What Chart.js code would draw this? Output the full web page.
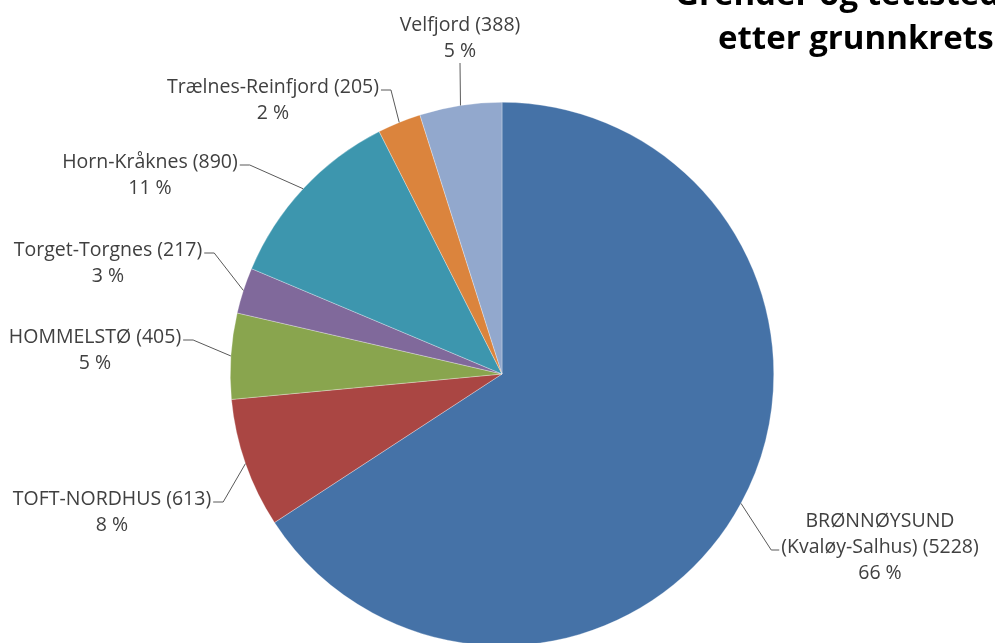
<!DOCTYPE html>
<html>
<head>
<meta charset="utf-8">
<script src="https://cdn.jsdelivr.net/npm/chart.js@4.4.0/dist/chart.umd.min.js"></script>
<style>
  html, body { margin: 0; padding: 0; background: #fff; overflow: hidden; }
  #wrap { width: 995px; height: 660px; position: relative; }
</style>
</head>
<body>
<div id="wrap"><canvas id="pie"></canvas></div>
<script>
// grunnkretser, clockwise from 12 o'clock
const names = [
    ["BRØNNØYSUND", "(Kvaløy-Salhus) (5228)"],
    ["TOFT-NORDHUS (613)"],
    ["HOMMELSTØ (405)"],
    ["Torget-Torgnes (217)"],
    ["Horn-Kråknes (890)"],
    ["Trælnes-Reinfjord (205)"],
    ["Velfjord (388)"]
];
const people = [5228, 613, 405, 217, 890, 205, 388];
const percentText = ["66 %", "8 %", "5 %", "3 %", "11 %", "2 %", "5 %"];
const colors = ["#4572A7", "#AA4643", "#89A54E", "#80699B", "#3D96AE", "#DB843D", "#92A8CD"];
const titleLines = ["Grender og tettsteder", "etter grunnkretser"];

// where the data labels sit (centre of text block) and where the leader leaves them
const labelSpots = [
    { x: 880, y: 521, side: "left2" },
    { x: 112, y: 499, side: "right" },
    { x: 95, y: 337, side: "right" },
    { x: 108, y: 250, side: "right" },
    { x: 150, y: 162, side: "right" },
    { x: 273, y: 87, side: "right" },
    { x: 460, y: 25, side: "below" }
];

const labelFont = "19.5px 'Open Sans'";
const lineH = 26;

const pieLabels = {
    id: "pieLabels",
    afterDraw(chart) {
        const ctx = chart.ctx;
        const arcs = chart.getDatasetMeta(0).data;
        ctx.save();
        ctx.font = labelFont;
        ctx.fillStyle = "#404040";
        ctx.textAlign = "center";
        ctx.textBaseline = "middle";
        arcs.forEach((arc, i) => {
            const p = arc.getProps(["x", "y", "startAngle", "endAngle", "outerRadius"], true);
            const mid = (p.startAngle + p.endAngle) / 2;
            const ex = p.x + Math.cos(mid) * p.outerRadius;
            const ey = p.y + Math.sin(mid) * p.outerRadius;
            const spot = labelSpots[i];
            const lines = names[i].concat([percentText[i]]);
            lines.forEach((t, k) => ctx.fillText(t, spot.x, spot.y + k * lineH));

            ctx.strokeStyle = "#595959";
            ctx.lineWidth = 1;
            ctx.beginPath();
            if (spot.side === "right") {
                const w = ctx.measureText(lines[0]).width;
                const sx = spot.x + w / 2 + 2;
                const sy = spot.y + 3;
                ctx.moveTo(sx, sy);
                ctx.lineTo(sx + 10, sy);
                ctx.lineTo(ex, ey);
            } else if (spot.side === "left2") {
                const w = ctx.measureText(lines[1]).width;
                const sx = spot.x - w / 2 - 2;
                const sy = spot.y + lineH + 3;
                ctx.moveTo(sx, sy);
                ctx.lineTo(sx - 8, sy);
                ctx.lineTo(ex, ey);
            } else {
                ctx.moveTo(spot.x, spot.y + lineH + 12);
                ctx.lineTo(ex, ey);
            }
            ctx.stroke();
        });

        ctx.font = "bold 33px 'Open Sans'";
        ctx.fillStyle = "#000";
        ctx.textAlign = "left";
        ctx.textBaseline = "alphabetic";
        ctx.fillText(titleLines[0], 675, 5);
        ctx.fillText(titleLines[1], 718, 49);
        ctx.restore();
    }
};

new Chart(document.getElementById("pie"), {
    type: "pie",
    data: {
        labels: names.map(n => n.join(" ")),
        datasets: [{
            data: people,
            backgroundColor: colors,
            borderColor: "rgba(255,255,255,0.6)",
            borderWidth: 0.5
        }]
    },
    options: {
        responsive: true,
        maintainAspectRatio: false,
        animation: false,
        layout: { padding: { top: 102, bottom: 14, left: 230, right: 221 } },
        plugins: {
            legend: { display: false },
            tooltip: { enabled: false }
        }
    },
    plugins: [pieLabels]
});
</script>
</body>
</html>
